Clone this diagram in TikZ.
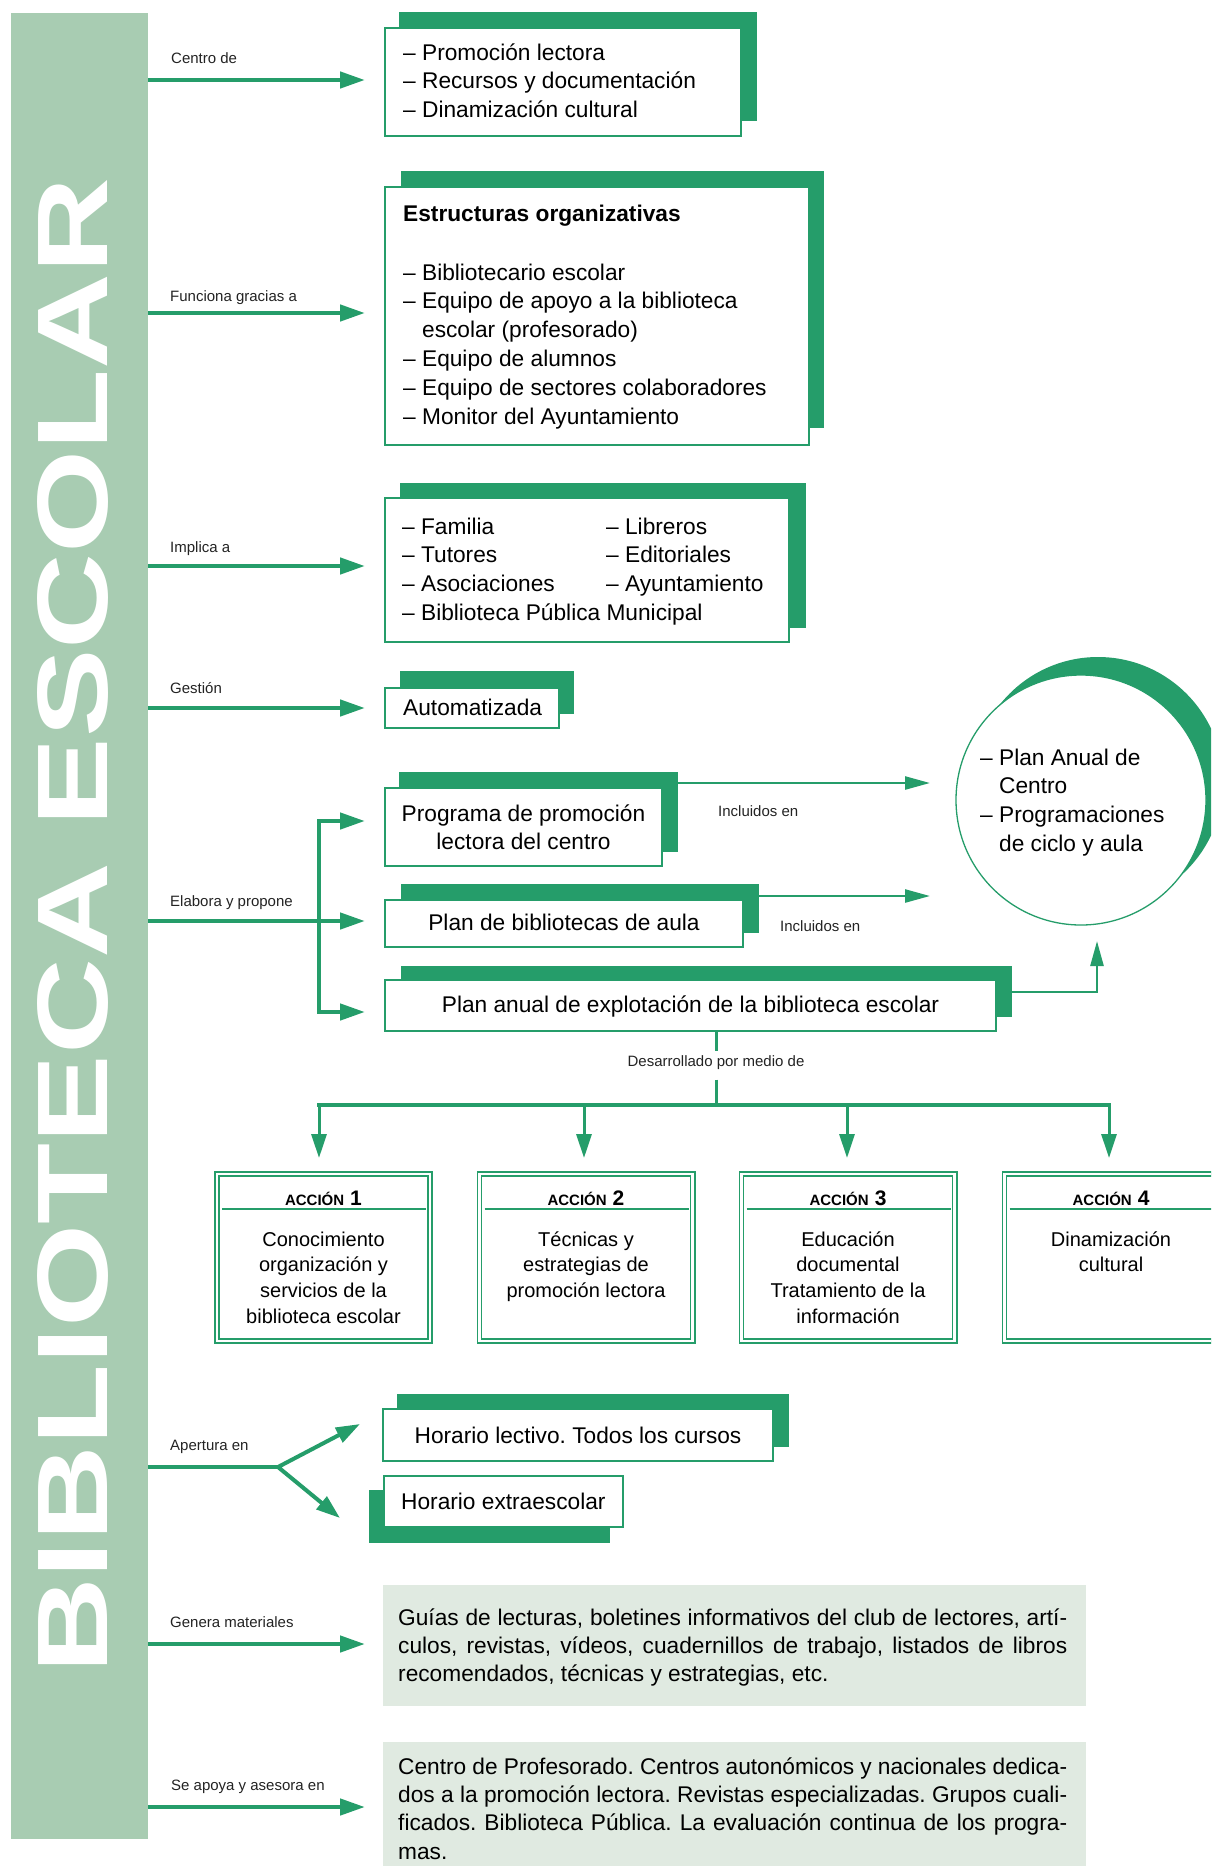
\documentclass[tikz,border=0pt]{standalone}
\usepackage{fontspec}
\usepackage{graphicx}
\setmainfont{Liberation Sans}
\usetikzlibrary{arrows.meta}
\definecolor{gr}{RGB}{37,157,106}
\definecolor{bandc}{RGB}{168,204,178}
\definecolor{pale}{RGB}{224,234,225}
\definecolor{lbl}{RGB}{35,35,35}
\newcommand{\mainsz}{\fontsize{22.7}{28.5}\selectfont}
\newcommand{\labsz}{\fontsize{15}{18}\selectfont}
\newcommand{\acchdr}[1]{{\fontsize{15}{15}\selectfont\bfseries ACCIÓN}\hspace{6pt}{\fontsize{21}{21}\selectfont\bfseries #1}}
\newcommand{\dsp}{\phantom{– }}
\newcommand{\txtlines}[3]{\parbox[t]{#1}{\frenchspacing\fontsize{22.7}{#2}\selectfont #3}}
\frenchspacing
\begin{document}
\begin{tikzpicture}[x=1pt,y=-1pt,
 sbox/.style={rectangle, fill=gr, draw=none, inner sep=0pt, outer sep=0pt},
 wbox/.style={rectangle, fill=white, draw=gr, line width=1.4pt, inner sep=0pt, outer sep=0pt},
 pbox/.style={rectangle, fill=pale, draw=none, inner sep=0pt, outer sep=0pt},
 abox/.style={rectangle, draw=gr, double=white, double distance=2.6pt, line width=1.6pt, fill=white, inner sep=0pt, outer sep=0pt, minimum width=213.2pt, minimum height=167.2pt},
 lab/.style={anchor=base west, inner sep=0pt, text=lbl, font=\labsz},
 txt/.style={anchor=base west, inner sep=0pt, font=\mainsz},
 ctxt/.style={anchor=base, inner sep=0pt, font=\mainsz},
 bigarr/.style={draw=gr, line width=4.5pt, -{Triangle[length=25pt,width=16pt]}},
 thinarr/.style={draw=gr, line width=2.5pt, -{Triangle[length=25pt,width=13pt]}},
 medarr/.style={draw=gr, line width=3pt, -{Triangle[length=24pt,width=15pt]}},
 sepline/.style={draw=gr, line width=1.2pt}
]
\clip (0,0) rectangle (1211,1866);

% left band with title
\node[rectangle, fill=bandc, inner sep=0pt, outer sep=0pt, minimum width=137pt, minimum height=1826pt] (band) at (79.5,926) {};
\node[rotate=90, anchor=base west, inner sep=0pt, text=white] (title) at (107,1674)
  {\resizebox{1496pt}{70pt}{\fontsize{100}{100}\selectfont\bfseries BIBLIOTECA ESCOLAR}};

% row 1
\node[sbox, minimum width=358pt, minimum height=109pt] (s1) at (578,66.5) {};
\node[wbox, minimum width=356pt, minimum height=108pt] (b1) at (563,82) {};
\node[txt] (t1) at (403,60) {\txtlines{330pt}{28.5pt}{– Promoción lectora\\– Recursos y documentación\\– Dinamización cultural}};
\node[lab] (l1) at (171,63.4) {Centro de};
\coordinate (a1) at (365,80);
\draw[bigarr] (band.east |- a1) -- (a1);

% row 2
\node[sbox, minimum width=423pt, minimum height=257pt] (s2) at (612.5,299.5) {};
\node[wbox, minimum width=424pt, minimum height=258pt] (b2) at (597,316) {};
\node[txt, font=\mainsz\bfseries] (h2) at (403,221) {Estructuras organizativas};
\node[txt] (t2) at (403,280) {\txtlines{400pt}{28.8pt}{– Bibliotecario escolar\\– Equipo de apoyo a la biblioteca\\\dsp escolar (profesorado)\\– Equipo de alumnos\\– Equipo de sectores colaboradores\\– Monitor del Ayuntamiento}};
\node[lab] (l2) at (170,301) {Funciona gracias a};
\coordinate (a2) at (365,313);
\draw[bigarr] (band.east |- a2) -- (a2);

% row 3
\node[sbox, minimum width=406pt, minimum height=145pt] (s3) at (603,555.5) {};
\node[wbox, minimum width=404pt, minimum height=144pt] (b3) at (587,570) {};
\node[txt] (t3a) at (402,534) {\txtlines{380pt}{28.7pt}{– Familia\\– Tutores\\– Asociaciones\\– Biblioteca Pública Municipal}};
\node[txt] (t3b) at (606,534) {\txtlines{180pt}{28.7pt}{– Libreros\\– Editoriales\\– Ayuntamiento}};
\node[lab] (l3) at (170,552.4) {Implica a};
\coordinate (a3) at (365,566);
\draw[bigarr] (band.east |- a3) -- (a3);

% row 4
\node[sbox, minimum width=174pt, minimum height=43pt] (s4) at (487,692.5) {};
\node[wbox, minimum width=174pt, minimum height=40pt] (b4) at (472,708) {};
\node[txt] (t4) at (403,715) {Automatizada};
\node[lab] (l4) at (170,693.4) {Gestión};
\coordinate (a4) at (365,708);
\draw[bigarr] (band.east |- a4) -- (a4);

% row 5 : three plans
\node[sbox, minimum width=279pt, minimum height=80pt] (s5) at (538.5,812) {};
\node[wbox, minimum width=277pt, minimum height=78pt] (b5) at (523.5,827) {};
\node[ctxt] (t5) at (523.5,821) {\parbox[t]{270pt}{\centering\fontsize{22.7}{28}\selectfont Programa de promoción\\lectora del centro}};

\node[sbox, minimum width=358pt, minimum height=49pt] (s6) at (580,908.5) {};
\node[wbox, minimum width=358pt, minimum height=47pt] (b6) at (564,923.5) {};
\node[ctxt] (t6) at (564,930) {Plan de bibliotecas de aula};

\node[sbox, minimum width=611pt, minimum height=51pt] (s7) at (706.5,991.5) {};
\node[wbox, minimum width=611pt, minimum height=51pt] (b7) at (690.5,1005.5) {};
\node[ctxt] (t7) at (690.5,1012) {Plan anual de explotación de la biblioteca escolar};

\node[lab] (l5) at (170,906.4) {Elabora y propone};
\coordinate (br) at (319,921);
\coordinate (br1) at (319,821);
\coordinate (br3) at (319,1012);
\coordinate (e1) at (365,821);
\coordinate (e2) at (365,921);
\coordinate (e3) at (365,1012);
\draw[bigarr, {Triangle[length=25pt,width=16pt]}-{Triangle[length=25pt,width=16pt]}] (e1) -- (br1) -- (br3) -- (e3);
\draw[bigarr] (band.east |- br) -- (e2);

% circle
\node[circle, fill=gr, draw=none, inner sep=0pt, minimum size=250pt] (cs) at (1098,782) {};
\node[circle, fill=white, draw=gr, line width=1.3pt, inner sep=0pt, minimum size=250pt] (circ) at (1081,800) {};
\node[txt] (tc) at (980,765) {\txtlines{220pt}{28.7pt}{– Plan Anual de\\\dsp Centro\\– Programaciones\\\dsp de ciclo y aula}};

\coordinate (i1) at (930,783);
\coordinate (i2) at (930,896);
\coordinate (k3) at (1097,992);
\coordinate (i3) at (1097,941);
\draw[thinarr] (s5.east |- i1) -- (i1);
\draw[thinarr] (s6.east |- i2) -- (i2);
\draw[thinarr] (s7.east |- k3) -- (k3) -- (i3);
\node[lab] (l5a) at (718,816.4) {Incluidos en};
\node[lab] (l5b) at (780,931.4) {Incluidos en};

% desarrollado
\node[lab, anchor=base] (l6) at (716,1066.4) {Desarrollado por medio de};
\coordinate (d0) at (716,1105);
\draw[draw=gr, line width=3pt, shorten >=4pt] (b7.south -| l6) -- (l6.north);
\draw[draw=gr, line width=3pt, shorten <=10pt] (l6.south) -- (d0);
\coordinate (dk1) at (319,1105);
\coordinate (dk2) at (584,1105);
\coordinate (dk3) at (847,1105);
\coordinate (dk4) at (1109,1105);
\draw[draw=gr, line width=4.5pt, line cap=rect] (dk1) -- (dk4);
\coordinate (dt1) at (319,1158);
\coordinate (dt2) at (584,1158);
\coordinate (dt3) at (847,1158);
\coordinate (dt4) at (1109,1158);
\draw[medarr] (dk1) -- (dt1);
\draw[medarr] (dk2) -- (dt2);
\draw[medarr] (dk3) -- (dt3);
\draw[medarr] (dk4) -- (dt4);

% action boxes
\node[abox] (ab1) at (323.5,1257.5) {};
\node[abox] (ab2) at (586,1257.5) {};
\node[abox] (ab3) at (848,1257.5) {};
\node[abox] (ab4) at (1111,1257.5) {};
\draw[sepline] (222,1209) -- (426,1209);
\draw[sepline] (484.5,1209) -- (688.5,1209);
\draw[sepline] (746.5,1209) -- (950.5,1209);
\draw[sepline] (1009.5,1209) -- (1213.5,1209);
\node[anchor=base, inner sep=0pt] (ah1) at (323.5,1205.5) {\acchdr{1}};
\node[anchor=base, inner sep=0pt] (ah2) at (586,1205.5) {\acchdr{2}};
\node[anchor=base, inner sep=0pt] (ah3) at (848,1205.5) {\acchdr{3}};
\node[anchor=base, inner sep=0pt] (ah4) at (1111,1205.5) {\acchdr{4}};
\node[anchor=base, inner sep=0pt] (ax1) at (323.5,1246) {\parbox[t]{205pt}{\centering\fontsize{20}{25.7}\selectfont Conocimiento\\organización y\\servicios de la\\biblioteca escolar}};
\node[anchor=base, inner sep=0pt] (ax2) at (586,1246) {\parbox[t]{205pt}{\centering\fontsize{20}{25.7}\selectfont Técnicas y\\estrategias de\\promoción lectora}};
\node[anchor=base, inner sep=0pt] (ax3) at (848,1246) {\parbox[t]{205pt}{\centering\fontsize{20}{25.7}\selectfont Educación\\documental\\Tratamiento de la\\información}};
\node[anchor=base, inner sep=0pt] (ax4) at (1111,1246) {\parbox[t]{205pt}{\centering\fontsize{20}{25.7}\selectfont Dinamización\\cultural}};

% apertura
\node[sbox, minimum width=392pt, minimum height=53pt] (sHL) at (593,1420.5) {};
\node[wbox, minimum width=390pt, minimum height=52pt] (bHL) at (578,1435) {};
\node[ctxt] (tHL) at (578,1443) {Horario lectivo. Todos los cursos};
\node[sbox, minimum width=241pt, minimum height=53pt] (sHE) at (489.5,1516.5) {};
\node[wbox, minimum width=239pt, minimum height=51pt] (bHE) at (503.5,1501.5) {};
\node[txt] (tHE) at (401,1509) {Horario extraescolar};
\node[lab] (l7) at (170,1450.4) {Apertura en};
\coordinate (ap) at (278,1467);
\coordinate (ap1) at (360,1424);
\coordinate (ap2) at (340,1518);
\draw[draw=gr, line width=4.5pt] (band.east |- ap) -- (ap);
\draw[draw=gr, line width=4pt, {Triangle[length=24pt,width=16pt]}-{Triangle[length=24pt,width=16pt]}] (ap1) -- (ap) -- (ap2);

% genera materiales
\node[pbox, minimum width=703pt, minimum height=121pt] (g1) at (734.5,1645.5) {};
\node[txt] (tg1) at (398,1625) {\txtlines{669pt}{28pt}{\makebox[669pt][s]{Guías de lecturas, boletines informativos del club de lectores, artí-}\\\makebox[669pt][s]{culos, revistas, vídeos, cuadernillos de trabajo, listados de libros}\\recomendados, técnicas y estrategias, etc.}};
\node[lab] (l8) at (170,1627.4) {Genera materiales};
\coordinate (a8) at (365,1644);
\draw[bigarr] (band.east |- a8) -- (a8);

% se apoya
\node[pbox, minimum width=703pt, minimum height=128pt] (g2) at (734.5,1806) {};
\node[txt] (tg2) at (398,1774) {\txtlines{669pt}{28.4pt}{\makebox[669pt][s]{Centro de Profesorado. Centros autonómicos y nacionales dedica-}\\\makebox[669pt][s]{dos a la promoción lectora. Revistas especializadas. Grupos cuali-}\\\makebox[669pt][s]{ficados. Biblioteca Pública. La evaluación continua de los progra-}\\mas.}};
\node[lab] (l9) at (171,1790.4) {Se apoya y asesora en};
\coordinate (a9) at (365,1807);
\draw[bigarr] (band.east |- a9) -- (a9);
\end{tikzpicture}
\end{document}
